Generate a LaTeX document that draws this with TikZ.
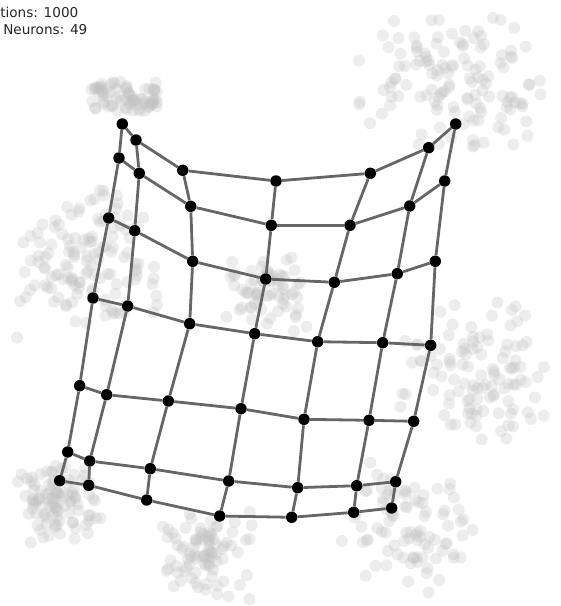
\documentclass[tikz,border=0pt]{standalone}
\usepackage{fontspec}
\setmainfont{DejaVu Sans}
\usepackage{tikz}
\usetikzlibrary{positioning}

\pgfdeclarelayer{cloud}
\pgfdeclarelayer{links}
\pgfsetlayers{cloud,links,main}

\begin{document}
\begin{tikzpicture}[x=0.75pt, y=-0.75pt,
  neuron/.style={circle, fill=black, inner sep=0pt, minimum size=8.6pt},
  link/.style={draw=black!60, line width=2.1pt},
  sample/.style={fill=black!25, fill opacity=0.28},
  readout/.style={font=\fontsize{10.2}{12}\selectfont, text=black!85, inner sep=0pt, anchor=base west}]

\useasboundingbox (0,0) rectangle (560,606);

% counters
\node[readout] (iters) at (0,18) {tions: 1000};
\node[readout] (count) at (3,35) {Neurons: 49};

% training samples
\begin{pgfonlayer}{cloud}
\pgfmathsetseed{1000}
\foreach \k in {1,...,75}
  \fill[sample] ({124+33*rand},{96+15*rand}) circle[radius=4.5pt];
\foreach \cx/\cy/\sx/\sy/\n in {450/85/100/80/130, 90/262/80/80/130,
    268/290/45/45/70, 478/370/85/75/110, 58/500/47/45/100,
    208/556/50/47/90, 410/528/70/72/90} {
  \foreach \k in {1,...,\n}
    \fill[sample] ({\cx+\sx*(rand+rand)/2},{\cy+\sy*(rand+rand)/2}) circle[radius=4.5pt];
}
\end{pgfonlayer}

% 7x7 map
\foreach \row [count=\r] in {
  {122.3/124,136/140,182.7/170.3,276/181,370.3/173.3,428.7/147.7,455.7/124},
  {119/158,139.3/173.3,190.7/206.3,271.3/225.3,350/225.3,409.7/206,444.7/181},
  {108.7/218,134.7/230.7,192.7/261.3,265.7/279,334.3/282.3,397.3/273.7,435.3/261.3},
  {93/298,127.7/306,189.7/323.7,254.7/333.7,317.7/341.7,382.7/342.7,430.7/345.3},
  {79.7/385.7,106.7/394.7,168.3/401,241/408.7,304/419.3,369/420.3,413.7/421.3},
  {67.7/452,89.7/461,150.3/468.7,228.7/481,297.7/487.7,356.7/485.7,395.7/481.7},
  {59.7/480.7,88.7/485.3,146.7/500,219.7/516,291.7/517.3,353.7/512.3,391.7/508}} {
  \foreach \x/\y [count=\c] in \row
    \node[neuron] (n\r\c) at (\x,\y) {};
}

\begin{pgfonlayer}{links}
\foreach \r in {1,...,7} {
  \foreach \c [evaluate=\c as \d using int(\c+1)] in {1,...,6} {
    \draw[link] (n\r\c) -- (n\r\d);
    \draw[link] (n\c\r) -- (n\d\r);
  }
}
\end{pgfonlayer}

\end{tikzpicture}
\end{document}
